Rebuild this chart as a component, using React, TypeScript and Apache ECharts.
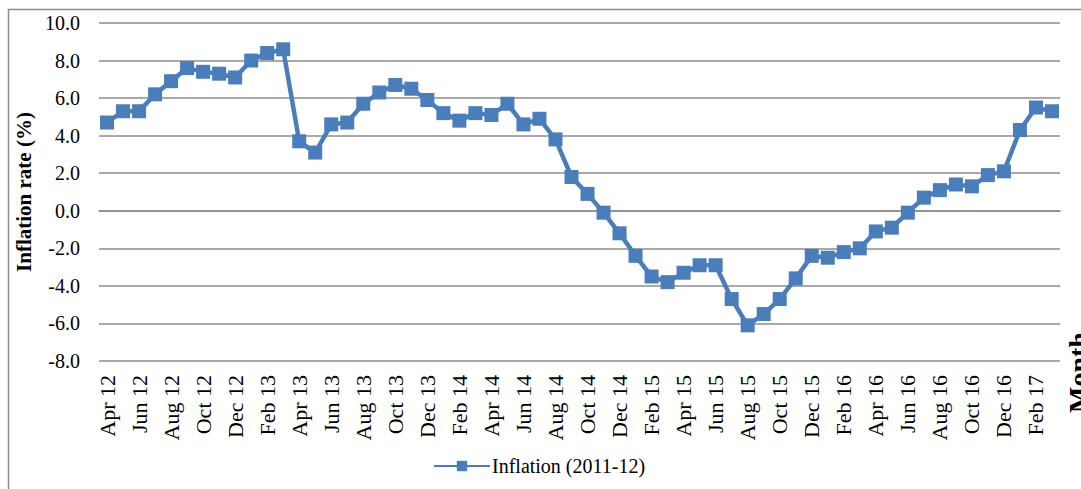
import React, { useEffect, useRef } from "react";
import * as echarts from "echarts";

const categories: string[] = [
  "Apr 12", "May 12", "Jun 12", "Jul 12", "Aug 12", "Sep 12", "Oct 12", "Nov 12", "Dec 12",
  "Jan 13", "Feb 13", "Mar 13", "Apr 13", "May 13", "Jun 13", "Jul 13", "Aug 13", "Sep 13",
  "Oct 13", "Nov 13", "Dec 13", "Jan 14", "Feb 14", "Mar 14", "Apr 14", "May 14", "Jun 14",
  "Jul 14", "Aug 14", "Sep 14", "Oct 14", "Nov 14", "Dec 14", "Jan 15", "Feb 15", "Mar 15",
  "Apr 15", "May 15", "Jun 15", "Jul 15", "Aug 15", "Sep 15", "Oct 15", "Nov 15", "Dec 15",
  "Jan 16", "Feb 16", "Mar 16", "Apr 16", "May 16", "Jun 16", "Jul 16", "Aug 16", "Sep 16",
  "Oct 16", "Nov 16", "Dec 16", "Jan 17", "Feb 17", "Mar 17",
];

const inflation: number[] = [
  4.7, 5.3, 5.3, 6.2, 6.9, 7.6, 7.4, 7.3, 7.1,
  8.0, 8.4, 8.6, 3.7, 3.1, 4.6, 4.7, 5.7, 6.3,
  6.7, 6.5, 5.9, 5.2, 4.8, 5.2, 5.1, 5.7, 4.6,
  4.9, 3.8, 1.8, 0.9, -0.1, -1.2, -2.4, -3.5, -3.8,
  -3.3, -2.9, -2.9, -4.7, -6.1, -5.5, -4.7, -3.6, -2.4,
  -2.5, -2.2, -2.0, -1.1, -0.9, -0.1, 0.7, 1.1, 1.4,
  1.3, 1.9, 2.1, 4.3, 5.5, 5.3,
];

const seriesName = "Inflation (2011-12)";
const yAxisTitle = "Inflation rate (%)";
const xAxisTitle = "Month";

const FONT = "'Liberation Serif', 'DejaVu Serif', serif";

export default function App() {
  const ref = useRef<HTMLDivElement>(null);

  useEffect(() => {
    if (!ref.current) return;
    const chart = echarts.init(ref.current, undefined, { renderer: "svg" });
    chart.setOption({
      animation: false,
      backgroundColor: "#ffffff",
      textStyle: { fontFamily: FONT, color: "#000" },
      grid: { left: 99, right: 21, top: 23, bottom: 128, containLabel: false },
      xAxis: {
        type: "category",
        data: categories,
        boundaryGap: true,
        axisLine: { show: true, lineStyle: { color: "#8c8c8c", width: 1.5 } },
        axisTick: { show: false },
        axisLabel: {
          interval: 1,
          rotate: 90,
          margin: 14,
          fontFamily: FONT,
          fontSize: 22,
          color: "#000",
        },
      },
      yAxis: {
        type: "value",
        min: -8,
        max: 10,
        interval: 2,
        name: yAxisTitle,
        nameLocation: "middle",
        nameGap: 62,
        nameRotate: 90,
        nameTextStyle: { fontFamily: FONT, fontSize: 21, fontWeight: "bold", color: "#000" },
        axisLine: { show: false },
        axisTick: { show: false },
        axisLabel: {
          margin: 19,
          fontFamily: FONT,
          fontSize: 20,
          color: "#000",
          formatter: (v: number) => v.toFixed(1),
        },
        splitLine: { show: true, lineStyle: { color: "#8c8c8c", width: 1.5 } },
      },
      legend: {
        show: true,
        left: 428,
        top: 451,
        itemWidth: 56,
        itemHeight: 13,
        itemGap: 4,
        textStyle: { fontFamily: FONT, fontSize: 20, color: "#000", padding: [0, 0, 0, -3] },
        data: [seriesName],
      },
      series: [
        {
          name: seriesName,
          type: "line",
          data: inflation,
          symbol: "rect",
          symbolSize: 14,
          showAllSymbol: true,
          lineStyle: { color: "#4a7ebb", width: 4.5 },
          itemStyle: { color: "#4a7ebb" },
        },
      ],
      graphic: [
        {
          type: "rect",
          shape: { x: 8.5, y: 9.5, width: 1200, height: 600 },
          style: { fill: "none", stroke: "#8c8c8c", lineWidth: 1.5 },
          silent: true,
          z: -1,
        },
        {
          type: "text",
          x: 1064,
          y: 413,
          rotation: Math.PI / 2,
          style: {
            text: xAxisTitle,
            font: `bold 28px ${FONT}`,
            fill: "#000",
            textAlign: "left",
            textVerticalAlign: "top",
          },
        },
      ],
    });
    return () => chart.dispose();
  }, []);

  return (
    <div
      ref={ref}
      style={{ position: "absolute", left: 0, top: 0, width: 1081, height: 489 }}
    />
  );
}
